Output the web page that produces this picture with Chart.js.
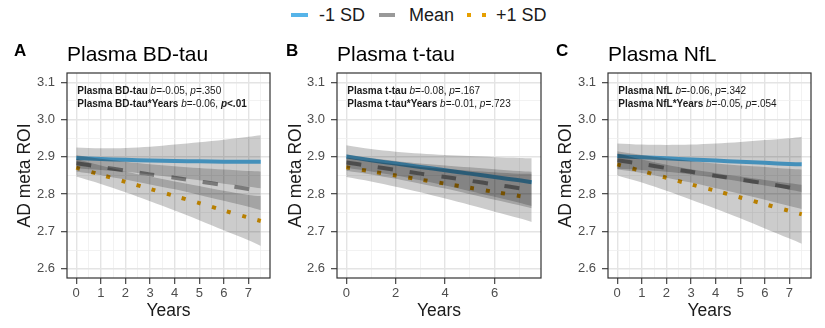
<!DOCTYPE html>
<html>
<head>
<meta charset="utf-8">
<script src="https://cdn.jsdelivr.net/npm/chart.js@4.4.1/dist/chart.umd.min.js"></script>
<style>
  body { margin: 0; background: #fff; }
  #wrap { position: relative; width: 825px; height: 328px; font-family: 'Liberation Sans', Arial, sans-serif; }
  canvas { position: absolute; top: 0; }
  .lg { position: absolute; top: 0; height: 30px; line-height: 30px; font-size: 18px; color: #1a1a1a; }
  .key { position: absolute; top: 13px; height: 4px; }
</style>
</head>
<body>
<div id="wrap">
  <span class="key" style="left:291px;width:17px;background:#56b4e9"></span>
  <span class="lg" style="left:319px">-1 SD</span>
  <span class="key" style="left:379px;width:16px;background:#999999"></span>
  <span class="lg" style="left:409px">Mean</span>
  <span class="key" style="left:467px;width:4px;background:#e69f00"></span>
  <span class="key" style="left:482px;width:4px;background:#e69f00"></span>
  <span class="lg" style="left:496px">+1 SD</span>
  <canvas id="panelA" width="275" height="328" style="left:0px"></canvas>
  <canvas id="panelB" width="270" height="328" style="left:275px"></canvas>
  <canvas id="panelC" width="280" height="328" style="left:545px"></canvas>
</div>
<script>
// time points of the model predictions
const years = [0, 1, 2, 3, 4, 5, 6, 7, 7.5];

// A: Plasma BD-tau
const aLow    = [2.897, 2.894, 2.892, 2.890, 2.889, 2.888, 2.887, 2.887, 2.887];
const aLowHi  = [2.925, 2.923, 2.924, 2.927, 2.933, 2.939, 2.946, 2.954, 2.958];
const aLowLo  = [2.869, 2.865, 2.860, 2.853, 2.845, 2.837, 2.828, 2.820, 2.816];
const aMean   = [2.883, 2.873, 2.863, 2.853, 2.844, 2.834, 2.824, 2.814, 2.809];
const aMeanHi = [2.905, 2.895, 2.887, 2.880, 2.875, 2.870, 2.866, 2.862, 2.861];
const aMeanLo = [2.861, 2.851, 2.839, 2.826, 2.813, 2.798, 2.782, 2.766, 2.757];
const aHigh   = [2.871, 2.852, 2.833, 2.814, 2.795, 2.776, 2.756, 2.737, 2.728];
const aHighHi = [2.895, 2.877, 2.861, 2.847, 2.834, 2.822, 2.809, 2.798, 2.795];
const aHighLo = [2.847, 2.827, 2.805, 2.781, 2.756, 2.730, 2.703, 2.676, 2.661];

// B: Plasma t-tau
const bLow    = [2.901, 2.891, 2.882, 2.873, 2.864, 2.855, 2.846, 2.837, 2.832];
const bLowHi  = [2.931, 2.921, 2.914, 2.909, 2.905, 2.902, 2.899, 2.897, 2.896];
const bLowLo  = [2.871, 2.861, 2.850, 2.837, 2.823, 2.808, 2.793, 2.777, 2.768];
const bMean   = [2.885, 2.875, 2.865, 2.855, 2.846, 2.836, 2.826, 2.816, 2.811];
const bMeanHi = [2.907, 2.897, 2.889, 2.882, 2.877, 2.872, 2.867, 2.862, 2.860];
const bMeanLo = [2.863, 2.853, 2.841, 2.828, 2.815, 2.800, 2.785, 2.770, 2.762];
const bHigh   = [2.872, 2.861, 2.850, 2.839, 2.828, 2.817, 2.806, 2.795, 2.790];
const bHighHi = [2.898, 2.888, 2.880, 2.873, 2.868, 2.863, 2.859, 2.855, 2.855];
const bHighLo = [2.846, 2.834, 2.820, 2.805, 2.788, 2.771, 2.753, 2.735, 2.725];

// C: Plasma NfL
const cLow    = [2.902, 2.899, 2.896, 2.893, 2.890, 2.887, 2.884, 2.881, 2.880];
const cLowHi  = [2.936, 2.933, 2.932, 2.933, 2.936, 2.940, 2.945, 2.950, 2.954];
const cLowLo  = [2.868, 2.865, 2.860, 2.853, 2.844, 2.834, 2.823, 2.812, 2.806];
const cMean   = [2.891, 2.881, 2.870, 2.860, 2.849, 2.839, 2.829, 2.818, 2.813];
const cMeanHi = [2.915, 2.905, 2.896, 2.889, 2.882, 2.877, 2.873, 2.868, 2.866];
const cMeanLo = [2.867, 2.857, 2.844, 2.831, 2.816, 2.801, 2.785, 2.768, 2.760];
const cHigh   = [2.880, 2.862, 2.844, 2.826, 2.809, 2.791, 2.773, 2.755, 2.746];
const cHighHi = [2.910, 2.893, 2.879, 2.867, 2.857, 2.847, 2.838, 2.829, 2.825];
const cHighLo = [2.850, 2.831, 2.809, 2.785, 2.761, 2.735, 2.708, 2.681, 2.667];

// axis breaks (major get labels, the rest are minor grid lines)
const yTicks = [2.6, 2.65, 2.7, 2.75, 2.8, 2.85, 2.9, 2.95, 3.0, 3.05, 3.1];
const yMajor = [2.6, 2.7, 2.8, 2.9, 3.0, 3.1];
const xTicksHalf = [0, 0.5, 1, 1.5, 2, 2.5, 3, 3.5, 4, 4.5, 5, 5.5, 6, 6.5, 7, 7.5];
const xMajorAll = [0, 1, 2, 3, 4, 5, 6, 7];
const xTicksB = [0, 1, 2, 3, 4, 5, 6, 7];
const xMajorB = [0, 2, 4, 6];

const font = "'Liberation Sans', Arial, sans-serif";
const has = (list, v) => list.some(m => Math.abs(m - v) < 1e-6);

const panelText = {
    id: 'panelText',
    afterDraw(chart, args, opts) {
        const { ctx, chartArea: a } = chart;
        ctx.save();
        ctx.strokeStyle = '#333333';
        ctx.lineWidth = 1.2;
        ctx.strokeRect(a.left, a.top, a.right - a.left, a.bottom - a.top);
        ctx.fillStyle = '#000';
        ctx.textBaseline = 'alphabetic';
        ctx.font = 'bold 17px ' + font;
        ctx.fillText(opts.letter, opts.letterX, 56);
        ctx.font = '21px ' + font;
        ctx.fillText(opts.title, a.left, 61);
        ctx.fillStyle = '#1a1a1a';
        const x0 = chart.scales.x.getPixelForValue(0) + 1;
        opts.notes.forEach((line, i) => {
            let x = x0;
            const y = a.top + 20.8 + i * 13.6;
            line.forEach(([t, style]) => {
                ctx.font = style + ' 10px ' + font;
                ctx.fillText(t, x, y);
                x += ctx.measureText(t).width;
            });
        });
        ctx.restore();
    }
};

function makePanel(id, p) {
    const pts = arr => years.map((x, i) => ({ x: x, y: arr[i] }));
    const band = 'rgba(0,0,0,0.2)';
    const ribbon = (hi, lo) => [
        { data: pts(hi), fill: '+1', backgroundColor: band, borderWidth: 0, pointRadius: 0 },
        { data: pts(lo), fill: false, borderWidth: 0, pointRadius: 0 }
    ];
    const ctx = document.getElementById(id).getContext('2d');
    new Chart(ctx, {
        type: 'line',
        data: {
            datasets: [
                ...ribbon(p.lowHi, p.lowLo),
                ...ribbon(p.meanHi, p.meanLo),
                ...ribbon(p.highHi, p.highLo),
                { label: '-1 SD', data: pts(p.low), borderColor: '#56b4e9', borderWidth: 4, pointRadius: 0, fill: false, tension: 0.3, borderCapStyle: 'butt' },
                { label: 'Mean', data: pts(p.mean), borderColor: '#999999', borderWidth: 4, borderDash: [15, 17], pointRadius: 0, fill: false, tension: 0.3, borderCapStyle: 'butt' },
                { label: '+1 SD', data: pts(p.high), borderColor: '#e69f00', borderWidth: 4, borderDash: [4, 11.7], pointRadius: 0, fill: false, tension: 0.3, borderCapStyle: 'butt' }
            ]
        },
        options: {
            responsive: false,
            animation: false,
            devicePixelRatio: 1,
            layout: { padding: { top: 73, left: 0, right: p.padRight, bottom: 0 } },
            elements: { line: { tension: 0.3 } },
            scales: {
                x: {
                    type: 'linear',
                    min: -0.375,
                    max: 7.875,
                    afterBuildTicks: ax => { ax.ticks = p.xTicks.map(v => ({ value: v })); },
                    afterFit: ax => { ax.height = 50; },
                    border: { display: false },
                    grid: {
                        color: c => has(p.xMajor, c.tick.value) ? '#e4e4e4' : '#efefef',
                        lineWidth: c => has(p.xMajor, c.tick.value) ? 1.4 : 0.8,
                        tickLength: 6,
                        tickColor: c => has(p.xMajor, c.tick.value) ? '#333333' : 'rgba(0,0,0,0)',
                        tickWidth: 1.1
                    },
                    ticks: {
                        autoSkip: false,
                        maxRotation: 0,
                        padding: 2,
                        color: '#4d4d4d',
                        font: { family: font, size: 13 },
                        callback: v => has(p.xMajor, v) ? String(v) : ''
                    },
                    title: {
                        display: true,
                        text: 'Years',
                        color: '#1a1a1a',
                        font: { family: font, size: 17.5 },
                        padding: { top: 0, bottom: 6 }
                    }
                },
                y: {
                    min: 2.575,
                    max: 3.125,
                    afterBuildTicks: ax => { ax.ticks = yTicks.map(v => ({ value: v })); },
                    afterFit: ax => { ax.width = p.yWidth; },
                    border: { display: false },
                    grid: {
                        color: c => has(yMajor, c.tick.value) ? '#e4e4e4' : '#efefef',
                        lineWidth: c => has(yMajor, c.tick.value) ? 1.4 : 0.8,
                        tickLength: 6,
                        tickColor: c => has(yMajor, c.tick.value) ? '#333333' : 'rgba(0,0,0,0)',
                        tickWidth: 1.1
                    },
                    ticks: {
                        autoSkip: false,
                        padding: 6,
                        color: '#4d4d4d',
                        font: { family: font, size: 13 },
                        callback: v => has(yMajor, v) ? v.toFixed(1) : ''
                    },
                    title: {
                        display: true,
                        text: 'AD meta ROI',
                        color: '#1a1a1a',
                        font: { family: font, size: 17.5 },
                        padding: { top: p.yTitlePad, bottom: 0 }
                    }
                }
            },
            plugins: {
                legend: { display: false },
                tooltip: { enabled: false },
                panelText: { letter: p.letter, letterX: p.letterX, title: p.title, notes: p.notes }
            }
        },
        plugins: [panelText]
    });
}

document.addEventListener('DOMContentLoaded', () => {

    makePanel('panelA', {
        letter: 'A', letterX: 14, title: 'Plasma BD-tau',
        yWidth: 67, yTitlePad: 14.5, padRight: 5,
        xTicks: xTicksHalf, xMajor: xMajorAll,
        low: aLow, lowHi: aLowHi, lowLo: aLowLo,
        mean: aMean, meanHi: aMeanHi, meanLo: aMeanLo,
        high: aHigh, highHi: aHighHi, highLo: aHighLo,
        notes: [
            [['Plasma BD-tau', 'bold'], [' ', ''], ['b', 'italic'], ['=-0.05, ', ''], ['p', 'italic'], ['=.350', '']],
            [['Plasma BD-tau*Years', 'bold'], [' ', ''], ['b', 'italic'], ['=-0.06, ', ''], ['p', 'italic bold'], ['<.01', 'bold']]
        ]
    });

    makePanel('panelB', {
        letter: 'B', letterX: 11, title: 'Plasma t-tau',
        yWidth: 62, yTitlePad: 11, padRight: 4,
        xTicks: xTicksB, xMajor: xMajorB,
        low: bLow, lowHi: bLowHi, lowLo: bLowLo,
        mean: bMean, meanHi: bMeanHi, meanLo: bMeanLo,
        high: bHigh, highHi: bHighHi, highLo: bHighLo,
        notes: [
            [['Plasma t-tau', 'bold'], [' ', ''], ['b', 'italic'], ['=-0.08, ', ''], ['p', 'italic'], ['=.167', '']],
            [['Plasma t-tau*Years', 'bold'], [' ', ''], ['b', 'italic'], ['=-0.01, ', ''], ['p', 'italic'], ['=.723', '']]
        ]
    });

    makePanel('panelC', {
        letter: 'C', letterX: 11, title: 'Plasma NfL',
        yWidth: 63, yTitlePad: 11, padRight: 14,
        xTicks: xTicksHalf, xMajor: xMajorAll,
        low: cLow, lowHi: cLowHi, lowLo: cLowLo,
        mean: cMean, meanHi: cMeanHi, meanLo: cMeanLo,
        high: cHigh, highHi: cHighHi, highLo: cHighLo,
        notes: [
            [['Plasma NfL', 'bold'], [' ', ''], ['b', 'italic'], ['=-0.06, ', ''], ['p', 'italic'], ['=.342', '']],
            [['Plasma NfL*Years', 'bold'], [' ', ''], ['b', 'italic'], ['=-0.05, ', ''], ['p', 'italic'], ['=.054', '']]
        ]
    });
});
</script>
</body>
</html>
